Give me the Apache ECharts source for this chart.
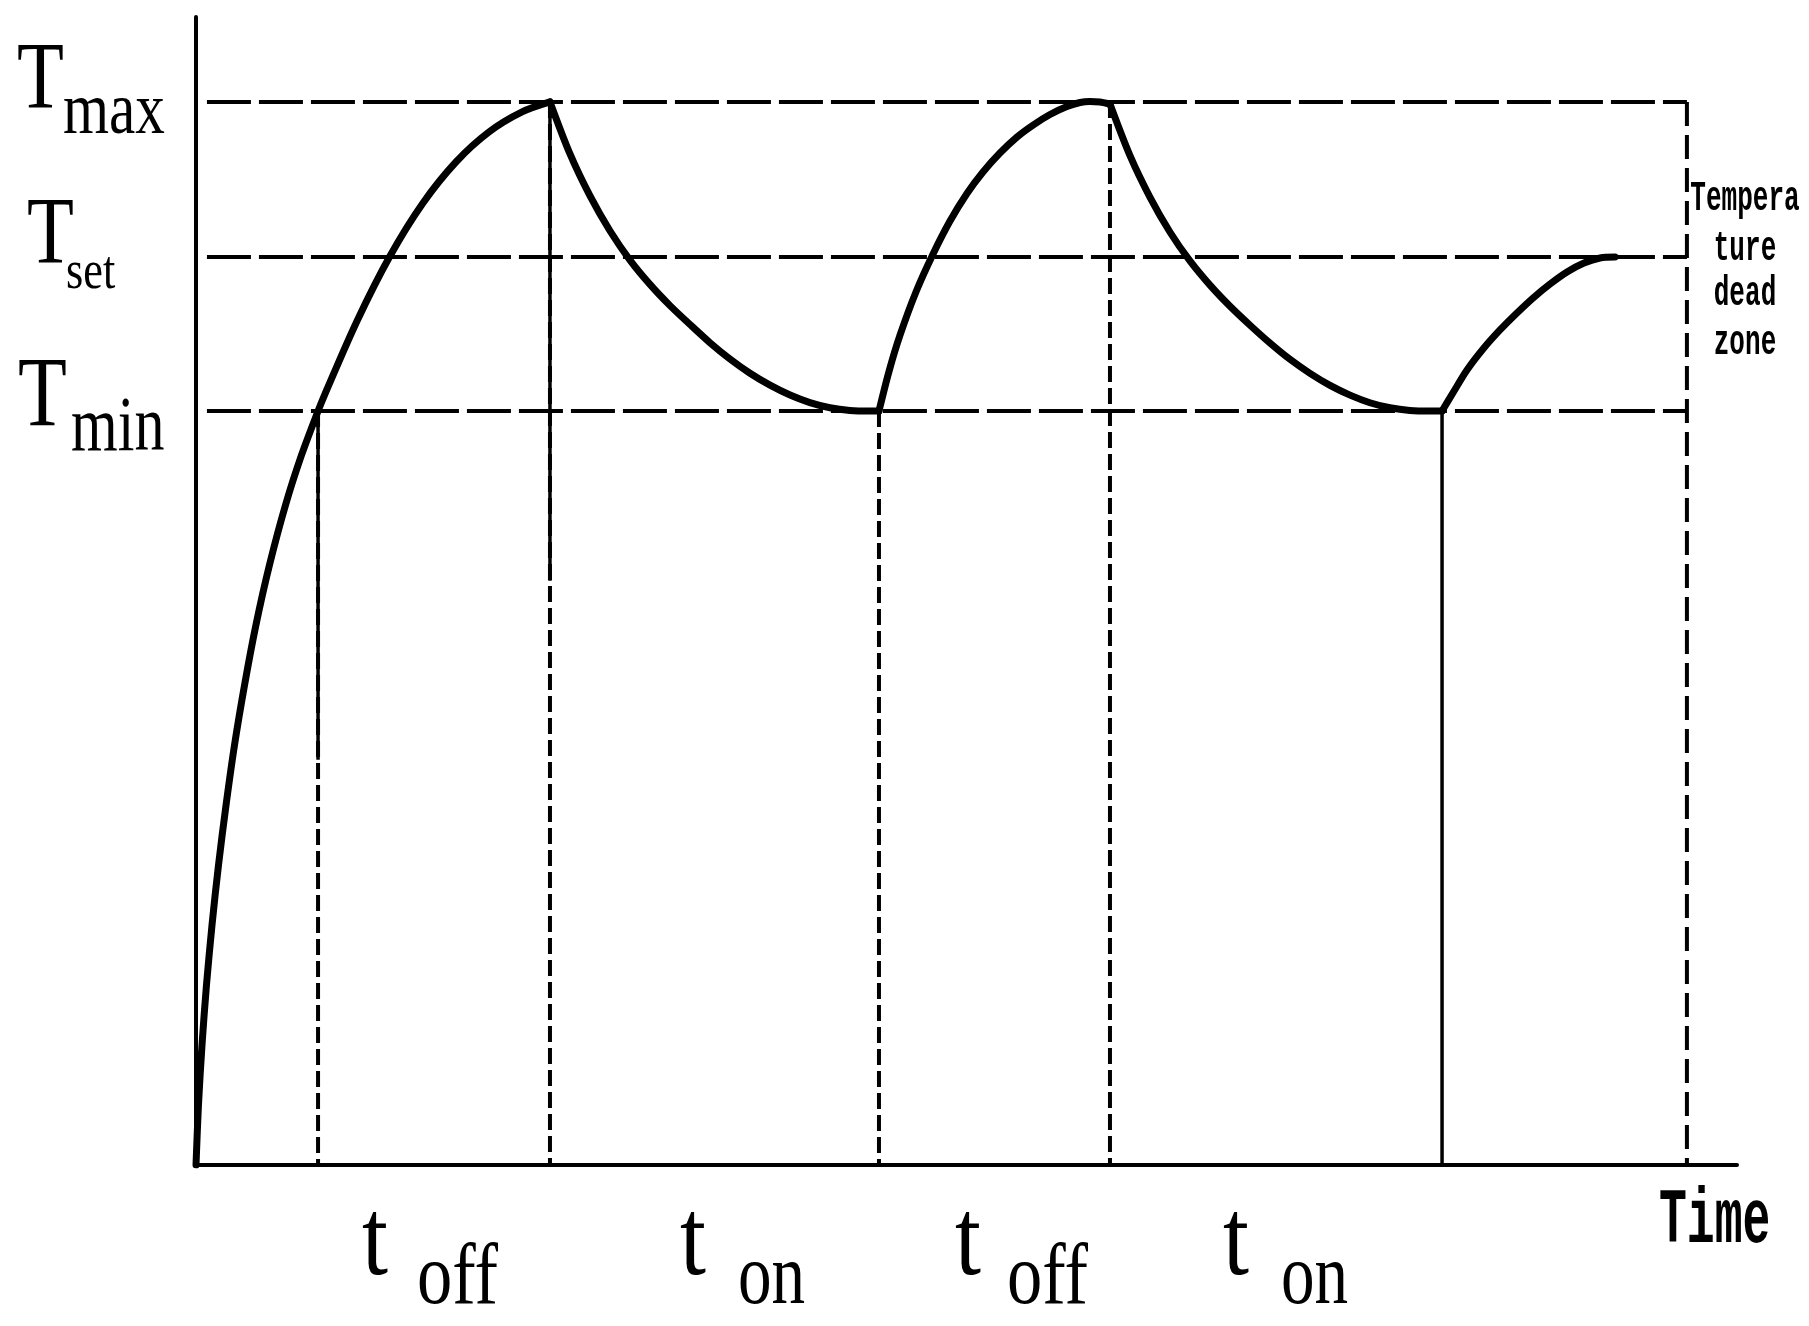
<!DOCTYPE html>
<html><head><meta charset="utf-8">
<script src="https://cdn.jsdelivr.net/npm/echarts@6/dist/echarts.min.js"></script>
<style>html,body{margin:0;padding:0;background:#fff}#main{width:1809px;height:1326px}</style>
</head><body><div id="main"></div>
<script>
// ---------- data ----------
const levelSubs = ['max', 'set', 'min'];
const levelTemps = [92.6, 79.09, 65.68];      // Tmax, Tset, Tmin
const bandStart = 0.71, bandEnd = 96.75;        // extent of the dashed level lines
const switchTimes = [7.92, 22.97, 44.32, 59.31, 80.86];
const phaseSubs = ['off', 'on', 'off', 'on'];
const xAxisName = 'Time';
const zoneWords = ['Tempera', 'ture', 'dead', 'zone'];

const heat1 = [[0,0],[0.16,5.23],[0.39,10.45],[0.68,15.68],[1.04,20.91],[1.46,26.13],[1.95,31.36],
  [2.50,36.59],[3.15,41.81],[3.89,47.04],[4.77,52.27],[5.81,57.49],[6.85,61.85],[7.92,65.68],
  [8.34,67.07],[10.45,73.52],[12.59,79.18],[14.73,83.80],[16.87,87.37],[19.01,89.98],[21.16,91.73],[22.97,92.60]];
const cool1 = [[22.97,92.60],[24.27,88.07],[25.57,84.41],[26.87,81.36],[28.16,78.83],[29.46,76.71],
  [30.76,74.86],[32.06,73.21],[33.36,71.62],[34.65,70.21],[35.95,68.97],[37.25,67.93],[38.55,67.07],
  [39.84,66.41],[41.14,65.96],[42.44,65.73],[43.74,65.68],[44.32,65.68]];
const heat2 = [[44.32,65.68],[44.97,69.12],[45.69,72.30],[46.72,76.05],[47.83,79.36],[48.93,82.23],
  [50.03,84.63],[51.07,86.50],[52.17,88.15],[53.28,89.55],[54.32,90.59],[55.42,91.51],[56.52,92.20],
  [57.37,92.55],[58.01,92.64],[58.66,92.60],[59.31,92.42]];
const cool2 = [[59.31,92.42],[60.61,87.92],[61.91,84.29],[63.21,81.25],[64.50,78.75],[65.80,76.64],
  [67.10,74.80],[68.40,73.15],[69.70,71.59],[70.99,70.18],[72.29,68.96],[73.59,67.91],[74.89,67.06],
  [76.18,66.40],[77.48,65.96],[78.78,65.73],[80.08,65.68],[80.86,65.68]];
const heat3 = [[80.86,65.68],[81.64,67.42],[82.48,69.25],[83.52,71.08],[84.62,72.74],[85.72,74.22],
  [86.76,75.52],[87.87,76.74],[88.97,77.79],[90.07,78.57],[91.11,79.01],[92.08,79.09]];

// ---------- chart ----------
const Tmax = levelTemps[0], Tmin = levelTemps[2];
const black = '#000';
function seg(data, style, z) {
  return { type: 'line', data: data, showSymbol: false, silent: true, animation: false, z: z || 2,
    lineStyle: Object.assign({ color: black, cap: 'butt' }, style) };
}
const series = [];
levelTemps.forEach(v => series.push(seg([[bandStart, v], [bandEnd, v]], { width: 4, type: [44, 8] })));
series.push(seg([[bandEnd, Tmax], [bandEnd, 0]], { width: 4, type: [24, 9] }));
series.push(seg([[switchTimes[0], Tmin], [switchTimes[0], 0]], { width: 4, type: [16, 6] }));
series.push(seg([[switchTimes[1], Tmax], [switchTimes[1], 0]], { width: 4, type: [16, 6] }));
series.push(seg([[switchTimes[2], Tmin], [switchTimes[2], 0]], { width: 4, type: [16, 6] }));
series.push(seg([[switchTimes[3], Tmax], [switchTimes[3], 0]], { width: 4, type: [16, 6] }));
series.push(seg([[switchTimes[0], Tmin], [switchTimes[0], 35.3]], { width: 3.5 }));
series.push(seg([[switchTimes[1], Tmax], [switchTimes[1], 50.9]], { width: 3.5 }));
series.push(seg([[switchTimes[4], Tmin], [switchTimes[4], 0]], { width: 3.5 }));
[heat1, cool1, heat2, cool2, heat3].forEach(d =>
  series.push(Object.assign(seg(d, { width: 7, cap: 'round', join: 'round' }, 5), { smooth: 0.3 })));

const serif = '"Liberation Serif", "Times New Roman", serif';
const monoB = '"Liberation Mono", "Courier New", monospace';
function txt(text, x, baseline, size, sx, font, align, k) {
  return { type: 'text', x: x, y: baseline - k * size, scaleX: sx, silent: true, z: 10,
    style: { text: text, font: font, fill: black, align: align || 'left', verticalAlign: 'middle' } };
}
const graphics = [];
const kS = 0.26, kM = 0.22;
const capX = [17, 27, 18], capB = [108, 263, 425], capS = [96, 96, 100];
const subX = [63, 66, 71], subB = [133, 288, 450], subS = [74, 54, 78], subSx = [0.8, 0.82, 0.77];
levelSubs.forEach((s, i) => {
  graphics.push(txt('T', capX[i], capB[i], capS[i], 0.8, capS[i] + 'px ' + serif, 'left', kS));
  graphics.push(txt(s, subX[i], subB[i], subS[i], subSx[i], subS[i] + 'px ' + serif, 'left', kS));
});
const tX = [362, 680, 955, 1223], subPX = [417, 738, 1007, 1281], subPSx = [0.82, 0.78, 0.82, 0.78];
phaseSubs.forEach((s, i) => {
  graphics.push(txt('t', tX[i], 1274, 110, 0.85, '110px ' + serif, 'left', kS));
  graphics.push(txt(s, subPX[i], 1303, 86, subPSx[i], '86px ' + serif, 'left', kS));
});
graphics.push(txt(xAxisName, 1659, 1240, 78, 0.595, 'bold 78px ' + monoB, 'left', kM));
const zoneB = [209, 259, 304, 353];
zoneWords.forEach((w, i) => graphics.push(txt(w, 1745, zoneB[i], 42, 0.62, 'bold 42px ' + monoB, 'center', kM)));

const chart = echarts.init(document.getElementById('main'));
chart.setOption({
  animation: false,
  backgroundColor: '#fff',
  grid: { left: 196, right: 72, top: 17, bottom: 161 },
  xAxis: { type: 'value', min: 0, max: 100, axisLine: { show: true, lineStyle: { color: black, width: 4 } },
    axisTick: { show: false }, axisLabel: { show: false }, splitLine: { show: false } },
  yAxis: { type: 'value', min: 0, max: 100, axisLine: { show: true, lineStyle: { color: black, width: 4 } },
    axisTick: { show: false }, axisLabel: { show: false }, splitLine: { show: false } },
  series: series,
  graphic: graphics
});
</script></body></html>
